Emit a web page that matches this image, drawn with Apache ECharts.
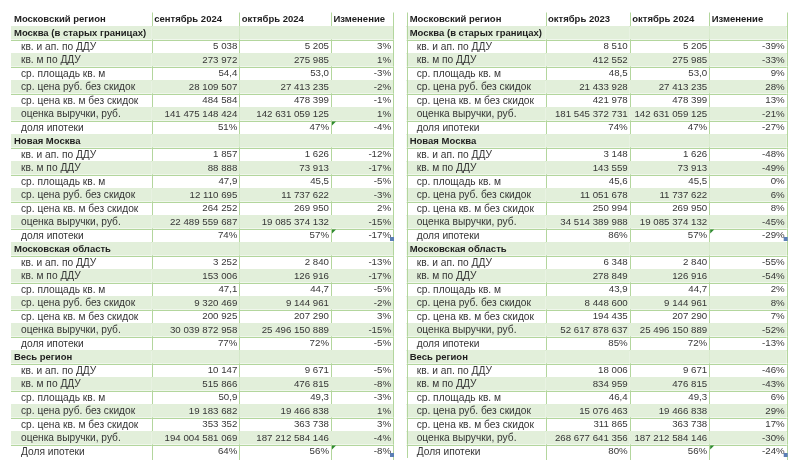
<!DOCTYPE html>
<html><head><meta charset="utf-8">
<script src="https://cdn.jsdelivr.net/npm/echarts@6/dist/echarts.min.js"></script>
<style>html,body{margin:0;padding:0;background:#fff}#c{width:800px;height:465px}</style>
</head><body><div id="c"></div><script>
// ---------- data ----------
const regionTitle = 'Московский регион';
const groups = ['Москва (в старых границах)', 'Новая Москва', 'Московская область', 'Весь регион'];
const metrics = ['кв. и ап. по ДДУ', 'кв. м по ДДУ', 'ср. площадь кв. м', 'ср. цена руб. без скидок',
  'ср. цена кв. м без скидок', 'оценка выручки, руб.', 'доля ипотеки'];
const lastShareLabel = 'Доля ипотеки';
const metricKinds = ['int', 'int', 'dec', 'int', 'int', 'int', 'pct'];
const headersMoM = ['сентябрь 2024', 'октябрь 2024', 'Изменение'];
const headersYoY = ['октябрь 2023', 'октябрь 2024', 'Изменение'];

const sep2024 = [
  [5038, 273972, 54.4, 28109507, 484584, 141475148424, 51],
  [1857, 88888, 47.9, 12110695, 264252, 22489559687, 74],
  [3252, 153006, 47.1, 9320469, 200925, 30039872958, 77],
  [10147, 515866, 50.9, 19183682, 353352, 194004581069, 64]
];
const oct2024 = [
  [5205, 275985, 53.0, 27413235, 478399, 142631059125, 47],
  [1626, 73913, 45.5, 11737622, 269950, 19085374132, 57],
  [2840, 126916, 44.7, 9144961, 207290, 25496150889, 72],
  [9671, 476815, 49.3, 19466838, 363738, 187212584146, 56]
];
const changeMoM = [
  [3, 1, -3, -2, -1, 1, -4],
  [-12, -17, -5, -3, 2, -15, -17],
  [-13, -17, -5, -2, 3, -15, -5],
  [-5, -8, -3, 1, 3, -4, -8]
];
const oct2023 = [
  [8510, 412552, 48.5, 21433928, 421978, 181545372731, 74],
  [3148, 143559, 45.6, 11051678, 250994, 34514389988, 86],
  [6348, 278849, 43.9, 8448600, 194435, 52617878637, 85],
  [18006, 834959, 46.4, 15076463, 311865, 268677641356, 80]
];
const changeYoY = [
  [-39, -33, 9, 28, 13, -21, -27],
  [-48, -49, 0, 6, 8, -45, -29],
  [-55, -54, 2, 8, 7, -52, -13],
  [-46, -43, 6, 29, 17, -30, -24]
];
// rows carrying Excel indicators
const triangleRowsMoM = [8, 16, 32];
const triangleRowsYoY = [16, 32];
const handleRows = [16, 32];

// ---------- layout ----------
const ROWS = 33;
const edgesL = [0, 140.7, 228.3, 320, 382];
const edgesR = [0, 138.8, 223, 302.5, 380];
const FONT = '"Liberation Sans", Arial, sans-serif';
const FS_BOLD = 9.5, FS_LABEL = 10.2, FS_NUM = 9.7;
const GREEN = '#e2efda';
const LINE = '#b3d69d';
const LINE_HEAD = '#98c47e';

function fmt(v, kind) {
  if (kind === 'pct') return v + '%';
  if (kind === 'dec') return v.toFixed(1).replace('.', ',');
  return String(v).replace(/\B(?=(\d{3})+(?!\d))/g, '\u00a0');
}

function buildCells(headers, colA, colB, change) {
  const cells = [];
  cells.push({ c: 0, r: 0, t: regionTitle, type: 'head' });
  headers.forEach((h, i) => cells.push({ c: i + 1, r: 0, t: h, type: 'head' }));
  groups.forEach((g, gi) => {
    const gr = 1 + gi * 8;
    cells.push({ c: 0, r: gr, t: g, type: 'group' });
    for (let c = 1; c <= 3; c++) cells.push({ c, r: gr, t: '', type: 'group' });
    metrics.forEach((m, mi) => {
      const r = gr + 1 + mi;
      const label = (gi === groups.length - 1 && mi === metrics.length - 1) ? lastShareLabel : m;
      cells.push({ c: 0, r, t: label, type: 'label' });
      cells.push({ c: 1, r, t: fmt(colA[gi][mi], metricKinds[mi]), type: 'num' });
      cells.push({ c: 2, r, t: fmt(colB[gi][mi], metricKinds[mi]), type: 'num' });
      cells.push({ c: 3, r, t: change[gi][mi] + '%', type: 'num' });
    });
  });
  return cells;
}

function crisp(v) { return Math.round(v) + 0.5; }

function makeSeries(idx, cells, edges, triRows, leftBorder) {
  return {
    type: 'custom',
    xAxisIndex: idx, yAxisIndex: idx,
    clip: false,
    silent: true,
    data: cells.map(d => [d.c, d.r]),
    encode: { x: 0, y: 1 },
    renderItem: function (params, api) {
      const d = cells[params.dataIndex];
      const c = api.value(0), r = api.value(1);
      const p0 = api.coord([edges[c], r]);
      const p1 = api.coord([edges[c + 1], r + 1]);
      const x0 = p0[0], y0 = p0[1], x1 = p1[0], y1 = p1[1];
      const ch = [];
      if (r % 2 === 1) {
        ch.push({ type: 'rect', shape: { x: x0, y: y0, width: x1 - x0, height: y1 - y0 }, style: { fill: GREEN } });
      }
      if (r < ROWS - 1) {
        const yy = crisp(y1);
        ch.push({ type: 'line', shape: { x1: x0, y1: yy, x2: x1, y2: yy },
          style: { stroke: r === 0 ? LINE_HEAD : LINE, lineWidth: 1 } });
      }
      const xx = crisp(x1);
      ch.push({ type: 'line', shape: { x1: xx, y1: y0, x2: xx, y2: y1 + (r === ROWS - 1 ? 2 : 0) },
        style: { stroke: LINE, lineWidth: 1 } });
      if (leftBorder && c === 0) {
        const xl = crisp(x0);
        ch.push({ type: 'line', shape: { x1: xl, y1: y0, x2: xl, y2: y1 }, style: { stroke: LINE, lineWidth: 1 } });
      }
      if (d.t) {
        let tx, align, weight = 'normal', fill = '#363636', fs = FS_NUM;
        if (d.type === 'head' || d.type === 'group') {
          weight = 'bold'; fill = '#1e1e1e'; align = 'left'; fs = FS_BOLD;
          tx = c === 0 ? x0 + 3 : x0 + 2.5;
        } else if (d.type === 'label') {
          align = 'left'; tx = x0 + 10; fs = FS_LABEL;
        } else {
          align = 'right'; tx = x1 - 2;
        }
        ch.push({ type: 'text', x: tx, y: (y0 + y1) / 2 + 0.5,
          style: { text: d.t, fill, fontSize: fs, fontFamily: FONT, fontWeight: weight, align, verticalAlign: 'middle' } });
      }
      if (c === 3 && triRows.indexOf(r) >= 0) {
        ch.push({ type: 'polygon', shape: { points: [[x0 + 1, y0 + 1], [x0 + 5, y0 + 1], [x0 + 1, y0 + 5]] },
          style: { fill: '#2f8a2f' } });
      }
      if (c === 3 && handleRows.indexOf(r) >= 0) {
        ch.push({ type: 'rect', shape: { x: x1 - 3, y: y1 - 5, width: 4, height: 4 },
          style: { fill: '#5b7fb5' } });
      }
      return { type: 'group', children: ch };
    }
  };
}

const cellsL = buildCells(headersMoM, sep2024, oct2024, changeMoM);
const cellsR = buildCells(headersYoY, oct2023, oct2024, changeYoY);

const chart = echarts.init(document.getElementById('c'), null, { renderer: 'canvas' });
chart.setOption({
  animation: false,
  backgroundColor: '#ffffff',
  grid: [
    { left: 11, top: 12.5, width: 382, height: 445.5 },
    { left: 406.7, top: 12.5, width: 380, height: 445.5 }
  ],
  xAxis: [
    { gridIndex: 0, type: 'value', min: 0, max: 382, show: false },
    { gridIndex: 1, type: 'value', min: 0, max: 380, show: false }
  ],
  yAxis: [
    { gridIndex: 0, type: 'value', min: 0, max: ROWS, inverse: true, show: false },
    { gridIndex: 1, type: 'value', min: 0, max: ROWS, inverse: true, show: false }
  ],
  series: [
    makeSeries(0, cellsL, edgesL, triangleRowsMoM, false),
    makeSeries(1, cellsR, edgesR, triangleRowsYoY, true)
  ]
});
</script></body></html>
